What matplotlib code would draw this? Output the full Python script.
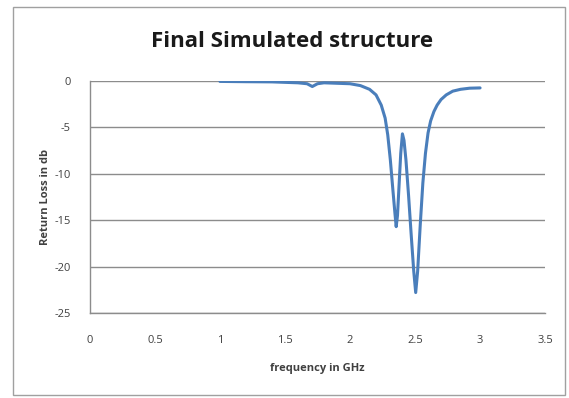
"""Return loss of the final simulated structure."""

import matplotlib.pyplot as plt
from matplotlib.patches import Rectangle

FREQ_GHZ = [1.0, 1.2, 1.4, 1.6, 1.67, 1.71, 1.75, 1.8, 1.9, 2.0, 2.08, 2.15,
            2.2, 2.24, 2.27, 2.29, 2.31, 2.33, 2.345, 2.355, 2.365, 2.378,
            2.39, 2.403, 2.415, 2.43, 2.45, 2.47, 2.49, 2.505, 2.52, 2.54,
            2.56, 2.58, 2.6, 2.62, 2.645, 2.67, 2.7, 2.74, 2.79, 2.85,
            2.92, 3.0]
RETURN_LOSS_DB = [-0.05, -0.08, -0.1, -0.2, -0.3, -0.6, -0.3, -0.2, -0.25,
                  -0.3, -0.5, -0.9, -1.5, -2.6, -4.0, -5.8, -8.5, -11.8,
                  -14.2, -15.7, -14.5, -11.0, -7.8, -5.7, -6.4, -8.5, -12.3,
                  -16.5, -20.5, -22.8, -20.5, -15.5, -11.0, -7.8, -5.6,
                  -4.3, -3.3, -2.6, -2.0, -1.5, -1.1, -0.9, -0.78, -0.75]

X_TICKS = [0, 0.5, 1, 1.5, 2, 2.5, 3, 3.5]
X_TICK_LABELS = ["0", "0.5", "1", "1.5", "2", "2.5", "3", "3.5"]
Y_TICKS = [0, -5, -10, -15, -20, -25]

LINE_COLOR = "#4A7EBB"
GRID_COLOR = "#8C8C8C"
TEXT_COLOR = "#404040"

plt.rcParams["font.family"] = ["Open Sans", "DejaVu Sans"]
plt.rcParams["axes.unicode_minus"] = False

fig = plt.figure(figsize=(5.69, 3.98), dpi=100)
fig.patches.append(Rectangle((0.023, 0.008), 0.97, 0.975, transform=fig.transFigure,
                             fill=False, edgecolor="#A0A0A0", linewidth=1.0))

ax = fig.add_axes([0.158, 0.2136, 0.800, 0.583])
ax.plot(FREQ_GHZ, RETURN_LOSS_DB, color=LINE_COLOR, linewidth=2.2,
        solid_capstyle="round", solid_joinstyle="round")

ax.set_xlim(0, 3.5)
ax.set_ylim(-25, 0)
ax.set_xticks(X_TICKS)
ax.set_xticklabels(X_TICK_LABELS)
ax.set_yticks(Y_TICKS)
ax.yaxis.grid(True, color=GRID_COLOR, linewidth=1.0)
ax.set_axisbelow(True)

for side in ("top", "right"):
    ax.spines[side].set_visible(False)
for side in ("left", "bottom"):
    ax.spines[side].set_color(GRID_COLOR)
    ax.spines[side].set_linewidth(1.0)
ax.tick_params(length=0, pad=16, labelsize=8, labelcolor=TEXT_COLOR)
ax.tick_params(axis="y", pad=14)

fig.text(0.513, 0.895, "Final Simulated structure", fontsize=16,
         fontweight="bold", color="#1A1A1A", ha="center", va="center")
ax.set_xlabel("frequency in GHz", fontsize=8, fontweight="bold",
              color=TEXT_COLOR, labelpad=12)
ax.set_ylabel("Return Loss in db", fontsize=8, fontweight="bold",
              color=TEXT_COLOR, labelpad=2)

fig.savefig("out.png", dpi=100)
